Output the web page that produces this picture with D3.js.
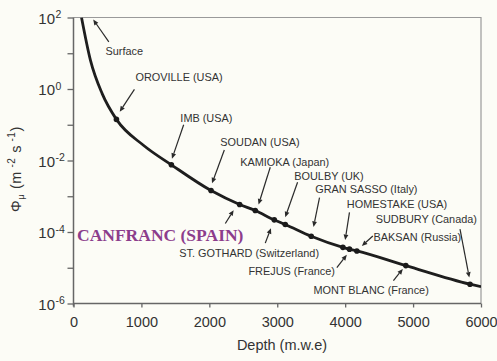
<!DOCTYPE html>
<html>
<head>
<meta charset="utf-8">
<script src="https://cdn.jsdelivr.net/npm/d3@7"></script>
<style>
  html, body { margin: 0; padding: 0; background: #fcfcf6; }
  svg { display: block; }
</style>
</head>
<body>
<svg id="chart" width="497" height="361"></svg>
<script>
// ---------------- data ----------------
// smooth curve: depth (m.w.e) and log10 of muon flux (m^-2 s^-1)
const curveDepth = [118, 250, 422, 632, 1034, 1441, 2025, 2446, 2676, 2956, 3118, 3500, 3966, 4063, 4172, 4893, 5838, 6000];
const curveLogFlux = [2.0, 0.80, -0.13, -0.85, -1.58, -2.12, -2.84, -3.23, -3.40, -3.66, -3.79, -4.12, -4.43, -4.48, -4.53, -4.94, -5.46, -5.53];

// laboratories
const siteNames = ["OROVILLE (USA)", "IMB (USA)", "SOUDAN (USA)", "CANFRANC (SPAIN)", "KAMIOKA (Japan)",
  "ST. GOTHARD (Switzerland)", "BOULBY (UK)", "GRAN SASSO (Italy)", "HOMESTAKE (USA)", "FREJUS (France)",
  "BAKSAN (Russia)", "MONT BLANC (France)", "SUDBURY (Canada)"];
const siteDepth = [632, 1441, 2025, 2446, 2676, 2956, 3118, 3500, 3966, 4063, 4172, 4893, 5838];
const siteLogFlux = [-0.85, -2.12, -2.84, -3.23, -3.40, -3.66, -3.79, -4.12, -4.43, -4.48, -4.53, -4.94, -5.46];

const surfaceLabel = "Surface";
const surfaceDepth = 118, surfaceLogFlux = 2.0;

const xTicks = [0, 1000, 2000, 3000, 4000, 5000, 6000];
const yMajorExp = [2, 0, -2, -4, -6];
const yMinorExp = [1, -1, -3, -5];
const xTitle = "Depth (m.w.e)";

// ---------------- layout (pixel offsets from each marked point) ----------------
// [labelDx, labelDy(baseline), tailDx, tailDy, tipDx, tipDy]
const siteLayout = [
  [19, -38.3, 18, -30, 3.3, -7.6],
  [9, -43, 12.3, -40, 0.6, -6],
  [9.3, -45, 13.3, -40.5, 1, -7.2],
  [-162.6, 36.7, -14.3, 19, -6, 5.7],
  [-15, -45, 15, -43.3, 3.3, -6],
  [-95, 37, -9, 23.3, -3.3, 8.3],
  [9, -44.5, 12.3, -42.3, 0, -7.3],
  [4, -43, 8.3, -38.7, 2.3, -9.3],
  [4, -39.7, 6.6, -35, 2.3, -7.4],
  [-101, 25.7, -12.6, 18.4, -2.6, 5.7],
  [16.6, -10, 16, -15, 5, -5],
  [-92.4, 28, -12.4, 15, -3, 3.3],
  [-94.3, -61.3, -10, -55, -0.7, -6.6]
];
const surfaceLayout = [24, 37.7, 27.3, 24.4, 11.7, 2];

// ---------------- drawing ----------------
const svg = d3.select("#chart");
const W = 497, H = 361;
const mLeft = 73.5, mRight = 481, mTop = 17.5, mBottom = 303.5;

svg.append("rect").attr("width", W).attr("height", H).attr("fill", "#fcfcf6");

const x = d3.scaleLinear().domain([0, 6000]).range([mLeft, mRight]);
const y = d3.scaleLog().domain([1e-6, 1e2]).range([mBottom, mTop]);

const sans = "'Liberation Sans', Arial, Helvetica, sans-serif";
const ink = "#333";

// frame (top and right)
svg.append("path")
  .attr("d", `M${mLeft},${mTop}H${mRight}V${mBottom}`)
  .attr("fill", "none").attr("stroke", "#9a9a9a").attr("stroke-width", 1.2);

// x axis
const xAxis = d3.axisBottom(x).tickValues(xTicks).tickSize(4).tickFormat(d3.format("d"));
const gx = svg.append("g").attr("transform", `translate(0,${mBottom})`).call(xAxis);
gx.select(".domain").attr("stroke", "#666").attr("stroke-width", 1.5).attr("d", `M${mLeft},0H${mRight}`);
gx.selectAll(".tick line").attr("stroke", "#666").attr("stroke-width", 1.3);
gx.selectAll(".tick text").attr("fill", ink).attr("font-family", sans).attr("font-size", 14.5).attr("dy", "1.15em");

// y axis
const yAxis = d3.axisLeft(y).tickValues(yMajorExp.concat(yMinorExp).map(e => Math.pow(10, e))).tickSize(6).tickFormat("");
const gy = svg.append("g").attr("transform", `translate(${mLeft},0)`).call(yAxis);
gy.select(".domain").attr("stroke", "#666").attr("stroke-width", 1.5).attr("d", `M0,${mTop}V${mBottom + 3}`);
gy.selectAll(".tick line").attr("stroke", "#666").attr("stroke-width", 1.3);

// y tick labels 10^n
const yl = svg.append("g").attr("fill", ink).attr("font-family", sans);
yMajorExp.forEach(e => {
  const py = y(Math.pow(10, e));
  yl.append("text").attr("x", 55).attr("y", py + 6).attr("text-anchor", "end").attr("font-size", 15).text("10");
  yl.append("text").attr("x", 55.5).attr("y", py + 0.5).attr("font-size", 10.5).text(e === 0 ? "0" : String(e));
});

// axis titles
svg.append("text").attr("x", (235 + 329) / 2).attr("y", 350).attr("text-anchor", "middle")
  .attr("fill", ink).attr("font-family", sans).attr("font-size", 14.5).text(xTitle);

const yt = svg.append("text").attr("transform", "translate(21,169) rotate(-90)").attr("text-anchor", "middle")
  .attr("fill", ink).attr("font-family", sans).attr("font-size", 14.5).attr("letter-spacing", 0.6);
yt.append("tspan").text("Φ");
yt.append("tspan").attr("font-size", 9.5).attr("dy", 3).text("μ");
yt.append("tspan").attr("dy", -3).text(" (m");
yt.append("tspan").attr("font-size", 10).attr("dy", -6).text(" -2");
yt.append("tspan").attr("dy", 6).text(" s");
yt.append("tspan").attr("font-size", 10).attr("dy", -6).text(" -1");
yt.append("tspan").attr("dy", 6).text(")");

// curve
const clip = svg.append("clipPath").attr("id", "plotclip");
clip.append("rect").attr("x", mLeft).attr("y", mTop).attr("width", mRight - mLeft).attr("height", mBottom - mTop);
const line = d3.line().x(d => x(d[0])).y(d => y(Math.pow(10, d[1]))).curve(d3.curveMonotoneX);
svg.append("path")
  .datum(curveDepth.map((d, i) => [d, curveLogFlux[i]]))
  .attr("clip-path", "url(#plotclip)")
  .attr("d", line).attr("fill", "none").attr("stroke", "#1e1e1e").attr("stroke-width", 2.8);

// markers
svg.append("g").selectAll("circle").data(siteDepth).join("circle")
  .attr("cx", d => x(d)).attr("cy", (d, i) => y(Math.pow(10, siteLogFlux[i])))
  .attr("r", 2.8).attr("fill", "#1a1a1a");

// arrows
function arrow(g, x1, y1, x2, y2) {
  const a = Math.atan2(y2 - y1, x2 - x1);
  const L = 5.5, Wd = 2.4;
  const bx = x2 - L * Math.cos(a), by = y2 - L * Math.sin(a);
  g.append("line").attr("x1", x1).attr("y1", y1).attr("x2", bx).attr("y2", by)
    .attr("stroke", "#2a2a2a").attr("stroke-width", 1.2);
  g.append("path").attr("d", `M${x2},${y2}L${bx - Wd * Math.sin(a)},${by + Wd * Math.cos(a)}L${bx + Wd * Math.sin(a)},${by - Wd * Math.cos(a)}Z`)
    .attr("fill", "#2a2a2a");
}

const ann = svg.append("g");
siteNames.forEach((name, i) => {
  const px = x(siteDepth[i]), py = y(Math.pow(10, siteLogFlux[i]));
  const L = siteLayout[i];
  const isCanfranc = name.startsWith("CANFRANC");
  const t = ann.append("text").attr("x", px + L[0]).attr("y", py + L[1]).text(name);
  if (isCanfranc) {
    t.attr("font-family", "'Liberation Serif', 'Times New Roman', serif").attr("font-weight", "bold")
      .attr("font-size", 17.5).attr("fill", "#8c3d8c");
  } else {
    t.attr("font-family", sans).attr("font-size", 10.9).attr("fill", ink);
  }
  arrow(ann, px + L[2], py + L[3], px + L[4], py + L[5]);
});
{
  const px = x(surfaceDepth), py = y(Math.pow(10, surfaceLogFlux));
  const L = surfaceLayout;
  ann.append("text").attr("x", px + L[0]).attr("y", py + L[1]).text(surfaceLabel)
    .attr("font-family", sans).attr("font-size", 10.9).attr("fill", ink);
  arrow(ann, px + L[2], py + L[3], px + L[4], py + L[5]);
}
</script>
</body>
</html>
